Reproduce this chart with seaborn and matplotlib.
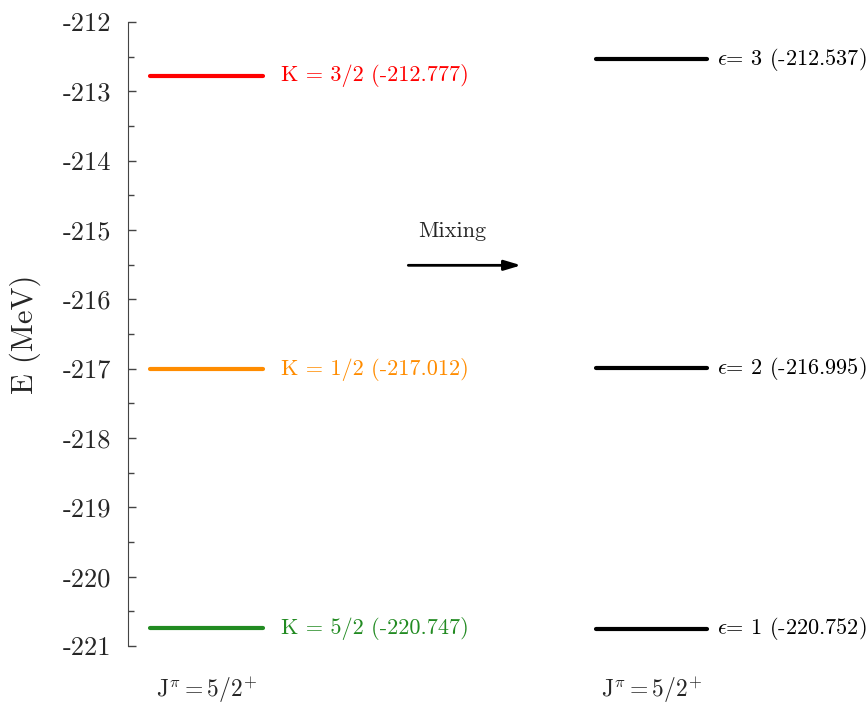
import numpy as np
import pandas as pd
import matplotlib
matplotlib.use("Agg")
import matplotlib.pyplot as plt
import seaborn as sns
from matplotlib.ticker import FuncFormatter, MultipleLocator
import matplotlib.transforms as mtransforms

# ----------------------------
# Data
# ----------------------------
k_labels = ["K = 3/2", "K = 1/2", "K = 5/2"]
k_energies = [-212.777, -217.012, -220.747]
k_colors = ["red", "darkorange", "forestgreen"]

eps_labels = [r"$\epsilon$= 3", r"$\epsilon$= 2", r"$\epsilon$= 1"]
eps_energies = [-212.537, -216.995, -220.752]

column_names = [r"J$^{\pi}=5/2^{+}$", r"J$^{\pi}=5/2^{+}$"]

# column layout (x in axis units)
col_left = (0.3, 1.83)
col_right = (6.32, 7.83)

# ----------------------------
# Style
# ----------------------------
sns.set_style("ticks")
plt.rcParams["font.family"] = ["cmr10", "DejaVu Serif"]
plt.rcParams["mathtext.fontset"] = "cm"
plt.rcParams["axes.formatter.use_mathtext"] = True

# long-format table for seaborn
rows = []
for i, (lab, e) in enumerate(zip(k_labels, k_energies)):
    for x in col_left:
        rows.append({"level": "K%d" % i, "x": x, "E": e})
for i, (lab, e) in enumerate(zip(eps_labels, eps_energies)):
    for x in col_right:
        rows.append({"level": "eps%d" % i, "x": x, "E": e})
df = pd.DataFrame(rows)

palette = {"K%d" % i: c for i, c in enumerate(k_colors)}
palette.update({"eps%d" % i: "black" for i in range(len(eps_energies))})

fig = plt.figure(figsize=(8.68, 7.08), dpi=100)
ax = fig.add_axes([0.1475, 0.0876, 0.8525, 0.8814])

sns.lineplot(data=df, x="x", y="E", hue="level", units="level",
             estimator=None, palette=palette, linewidth=3,
             legend=False, ax=ax)

# level labels
for lab, e, c in zip(k_labels, k_energies, k_colors):
    ax.text(col_left[1] + 0.24, e, f"{lab} ({e:.3f})", color=c,
            fontsize=16, va="center", ha="left")
for lab, e in zip(eps_labels, eps_energies):
    ax.text(col_right[1] + 0.13, e, f"{lab} ({e:.3f})", color="black",
            fontsize=16, va="center", ha="left")

# mixing arrow
ax.annotate("", xy=(5.35, -215.51), xytext=(3.75, -215.51),
            arrowprops=dict(arrowstyle="-|>,head_length=1.0,head_width=0.3",
                            color="black", lw=2))
ax.text(4.38, -215.02, "Mixing", fontsize=16, ha="center", va="center")

# column names below axis
trans = mtransforms.blended_transform_factory(ax.transData, ax.transAxes)
for name, col in zip(column_names, [col_left, col_right]):
    ax.text(np.mean(col), -0.07, name, transform=trans, fontsize=17,
            ha="center", va="center")

# axes
ax.set_xlim(0, 10)
ax.set_ylim(-221, -212)
ax.yaxis.set_major_locator(MultipleLocator(1))
ax.yaxis.set_minor_locator(MultipleLocator(0.5))
ax.yaxis.set_major_formatter(FuncFormatter(lambda v, p: "%d" % round(v)))
ax.tick_params(axis="y", which="major", direction="in", length=6,
               width=1, labelsize=19, pad=12, color="#444444")
ax.tick_params(axis="y", which="minor", direction="in", length=4,
               width=1, color="#444444")
ax.set_xticks([])
ax.set_xlabel("")
ax.set_ylabel("E (MeV)", fontsize=22, labelpad=16)
for s in ["top", "right", "bottom"]:
    ax.spines[s].set_visible(False)
ax.spines["left"].set_color("#444444")

plt.savefig("out.png", dpi=100)
